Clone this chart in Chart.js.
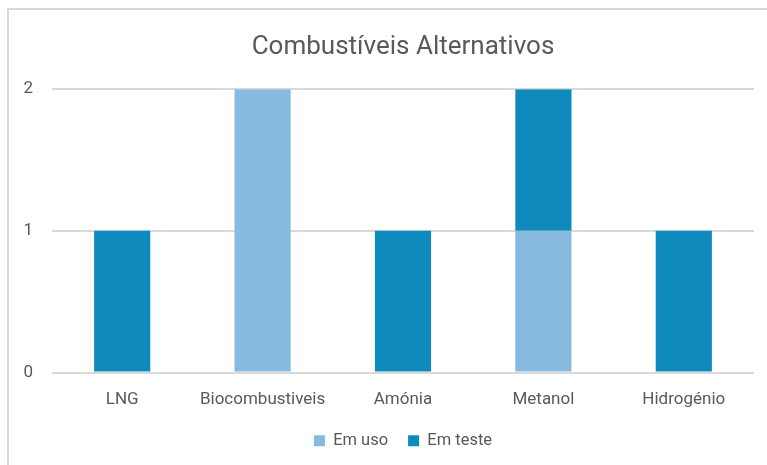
<!DOCTYPE html>
<html>
<head>
<meta charset="utf-8">
<script src="https://cdn.jsdelivr.net/npm/chart.js@4"></script>
<style>
  html, body { margin: 0; padding: 0; background: #fff; overflow: hidden; }
  #wrap { position: relative; width: 767px; height: 465px; }
  #frame { position: absolute; left: 7px; top: 8px; width: 820px; height: 520px;
           border: 2px solid #d9d9d9; box-sizing: border-box; }
  canvas { position: absolute; left: 0; top: 0; }
</style>
</head>
<body>
<div id="wrap">
  <div id="frame"></div>
  <canvas id="myChart" width="767" height="465"></canvas>
</div>
<script>
const categories = ['LNG', 'Biocombustiveis', 'Amónia', 'Metanol', 'Hidrogénio'];
const emUso = [0, 2, 0, 1, 0];
const emTeste = [1, 0, 1, 1, 1];
const yTicks = [0, 1, 2];

const font = "Roboto, 'Open Sans', sans-serif";
const textColor = '#595959';

const ctx = document.getElementById('myChart').getContext('2d');
const chart = new Chart(ctx, {
  type: 'bar',
  data: {
    labels: categories,
    datasets: [{
      label: 'Em uso',
      data: emUso,
      backgroundColor: '#86badf',
      categoryPercentage: 1,
      barPercentage: 0.4
    }, {
      label: 'Em teste',
      data: emTeste,
      backgroundColor: '#0e8abd',
      categoryPercentage: 1,
      barPercentage: 0.4
    }]
  },
  options: {
    responsive: false,
    animation: false,
    layout: { padding: { left: 0, right: 13, top: 0, bottom: 6 } },
    scales: {
      x: {
        stacked: true,
        grid: { display: false },
        border: { display: false },
        ticks: { color: textColor, font: { family: font, size: 17 }, padding: 9 },
        afterFit: (s) => { s.height = 40; }
      },
      y: {
        stacked: true,
        min: yTicks[0],
        max: yTicks[yTicks.length - 1],
        afterBuildTicks: (s) => { s.ticks = yTicks.map(v => ({ value: v })); },
        grid: { color: '#d9d9d9', lineWidth: 2, drawTicks: false },
        border: { display: false },
        ticks: { color: textColor, font: { family: font, size: 17 }, padding: 19 },
        afterFit: (s) => { s.width = 52; }
      }
    },
    plugins: {
      title: {
        display: true,
        fullSize: false,
        text: 'Combustíveis Alternativos',
        color: textColor,
        font: { family: font, size: 26, weight: 'normal' },
        padding: { top: 32, bottom: 26 }
      },
      legend: {
        position: 'bottom',
        fullSize: false,
        labels: {
          color: textColor,
          font: { family: font, size: 16.5 },
          boxWidth: 11,
          boxHeight: 11,
          padding: 20
        }
      },
      tooltip: { enabled: false }
    }
  }
});
</script>
</body>
</html>
